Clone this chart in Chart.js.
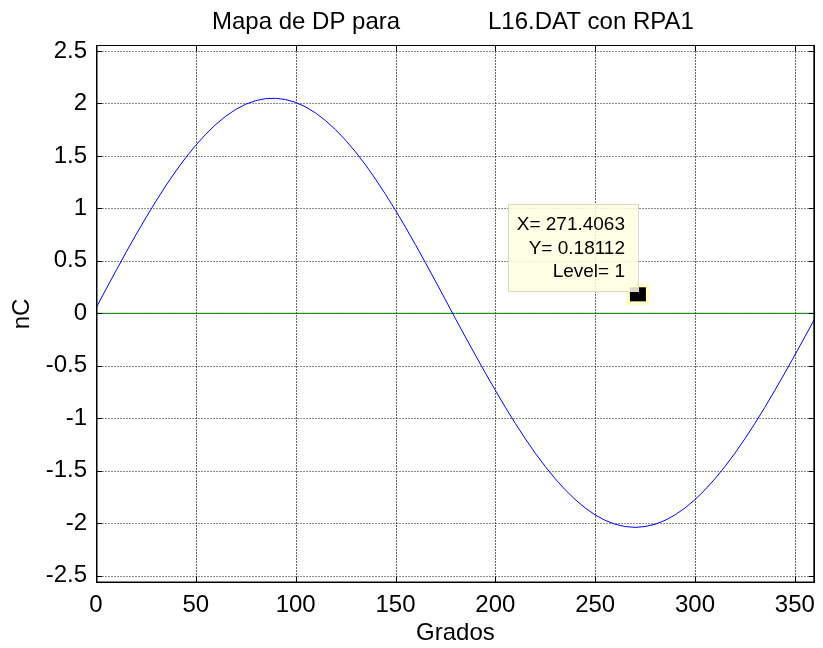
<!DOCTYPE html>
<html>
<head>
<meta charset="utf-8">
<script src="https://cdn.jsdelivr.net/npm/chart.js@4"></script>
<style>
html,body{margin:0;padding:0;background:#fff;}
#wrap{width:823px;height:648px;}
</style>
</head>
<body>
<div id="wrap"><canvas id="c" width="823" height="648"></canvas></div>
<script>
// Data
const grados = [0,5,10,15,20,25,30,35,40,45,50,55,60,65,70,75,80,85,90,95,100,105,110,115,120,125,130,135,140,145,150,155,160,165,170,175,180,185,190,195,200,205,210,215,220,225,230,235,240,245,250,255,260,265,270,275,280,285,290,295,300,305,310,315,320,325,330,335,340,345,350,355,360];
const nC = [0.05,0.229,0.405,0.579,0.748,0.911,1.068,1.217,1.356,1.485,1.602,1.707,1.800,1.879,1.943,1.993,2.027,2.046,2.049,2.037,2.010,1.967,1.909,1.836,1.750,1.650,1.538,1.414,1.279,1.134,0.981,0.821,0.654,0.482,0.307,0.129,-0.050,-0.225,-0.398,-0.568,-0.734,-0.895,-1.049,-1.195,-1.333,-1.460,-1.577,-1.682,-1.775,-1.855,-1.921,-1.973,-2.010,-2.032,-2.040,-2.032,-2.010,-1.973,-1.921,-1.855,-1.775,-1.682,-1.577,-1.460,-1.333,-1.195,-1.049,-0.895,-0.734,-0.568,-0.398,-0.225,-0.050];
const levelX = [0,360];
const levelY = [0,0];
const xTicks = [0,50,100,150,200,250,300,350];
const yTicks = [-2.5,-2,-1.5,-1,-0.5,0,0.5,1,1.5,2,2.5];
const tipX = 271.4063, tipY = 0.18112;
const tipLines = ['X= 271.4063','Y= 0.18112','Level= 1'];
const titleParts = ['Mapa de DP para','L16.DAT con RPA1'];
const xLabel = 'Grados', yLabel = 'nC';

const FONT = '"Liberation Sans", Arial, Helvetica, sans-serif';

const decor = {
  id: 'decor',
  beforeDatasetsDraw(chart) {
    const {ctx, chartArea: a} = chart;
    ctx.save();
    ctx.beginPath(); ctx.rect(a.left, a.top, a.right - a.left, a.bottom - a.top); ctx.clip();
    const xs = chart.scales.x, ys = chart.scales.y;
    // vertical grid
    ctx.strokeStyle = 'rgba(0,0,0,0.6)';
    ctx.lineWidth = 1;
    ctx.setLineDash([2,1]);
    xTicks.forEach(v => {
      const px = Math.round(xs.getPixelForValue(v)) + 0.5;
      ctx.beginPath(); ctx.moveTo(px, a.top); ctx.lineTo(px, a.bottom); ctx.stroke();
    });
    ctx.strokeStyle = 'rgba(0,0,0,0.45)';
    ctx.setLineDash([2,1]);
    yTicks.forEach(v => {
      const py = Math.round(ys.getPixelForValue(v)) + 0.5;
      ctx.beginPath(); ctx.moveTo(a.left, py); ctx.lineTo(a.right, py); ctx.stroke();
    });
    ctx.restore();
  },
  afterDatasetsDraw(chart) {
    const {ctx, chartArea: a} = chart;
    const xs = chart.scales.x, ys = chart.scales.y;
    ctx.save();
    // box
    ctx.strokeStyle = '#000';
    ctx.lineWidth = 1;
    ctx.setLineDash([]);
    ctx.strokeRect(Math.round(a.left) + 0.5, Math.round(a.top) + 0.5, Math.round(a.right - a.left) - 1, Math.round(a.bottom - a.top) - 1);
    ctx.lineWidth = 1.5;
    ctx.beginPath(); ctx.moveTo(a.left + 0.75, a.top); ctx.lineTo(a.left + 0.75, a.bottom); ctx.stroke();
    ctx.beginPath(); ctx.moveTo(a.left, a.bottom - 0.75); ctx.lineTo(a.right, a.bottom - 0.75); ctx.stroke();
    ctx.beginPath(); ctx.moveTo(a.right - 0.75, a.top); ctx.lineTo(a.right - 0.75, a.bottom); ctx.stroke();
    ctx.lineWidth = 1;
    // inward ticks
    const tl = 6;
    xTicks.forEach(v => {
      const px = Math.round(xs.getPixelForValue(v)) + 0.5;
      ctx.beginPath(); ctx.moveTo(px, a.bottom); ctx.lineTo(px, a.bottom - tl); ctx.stroke();
      ctx.beginPath(); ctx.moveTo(px, a.top); ctx.lineTo(px, a.top + tl); ctx.stroke();
    });
    yTicks.forEach(v => {
      const py = Math.round(ys.getPixelForValue(v)) + 0.5;
      ctx.beginPath(); ctx.moveTo(a.left, py); ctx.lineTo(a.left + tl, py); ctx.stroke();
      ctx.beginPath(); ctx.moveTo(a.right, py); ctx.lineTo(a.right - tl, py); ctx.stroke();
    });
    // datatip marker
    const mx = xs.getPixelForValue(tipX), my = ys.getPixelForValue(tipY);
    ctx.fillStyle = '#ffffd0';
    ctx.fillRect(mx - 12, my - 11, 24, 22);
    ctx.fillStyle = '#000';
    ctx.fillRect(mx - 8, my - 7, 16, 14);
    // datatip box
    const bx = 508, by = 204, bw = 130, bh = 87;
    ctx.fillStyle = 'rgba(255,255,225,0.85)';
    ctx.fillRect(bx, by, bw, bh);
    ctx.strokeStyle = '#d8d8c8';
    ctx.strokeRect(bx + 0.5, by + 0.5, bw, bh);
    ctx.fillStyle = '#000';
    ctx.font = '19px ' + FONT;
    ctx.textAlign = 'right';
    ctx.textBaseline = 'middle';
    tipLines.forEach((t, i) => ctx.fillText(t, 625, 225 + i * 23.5));
    // title
    ctx.font = '24px ' + FONT;
    ctx.textAlign = 'left';
    ctx.textBaseline = 'middle';
    ctx.fillText(titleParts[0], 212, 22);
    ctx.fillText(titleParts[1], 488, 22);
    // axis labels
    ctx.textAlign = 'center';
    ctx.fillText(xLabel, (a.left + a.right) / 2, 633);
    ctx.translate(22, (a.top + a.bottom) / 2);
    ctx.rotate(-Math.PI / 2);
    ctx.fillText(yLabel, 0, 0);
    ctx.restore();
  }
};

new Chart(document.getElementById('c'), {
  type: 'line',
  data: {
    datasets: [
      {
        data: grados.map((g, i) => ({x: g, y: nC[i]})),
        borderColor: '#0000ff',
        borderWidth: 1,
        pointRadius: 0,
        tension: 0,
        fill: false
      },
      {
        data: levelX.map((g, i) => ({x: g, y: levelY[i]})),
        borderColor: '#008000',
        borderWidth: 1,
        pointRadius: 0,
        fill: false
      }
    ]
  },
  options: {
    responsive: false,
    animation: false,
    events: [],
    layout: {padding: {left: 0, right: 5, top: 45, bottom: 0}},
    plugins: {legend: {display: false}, tooltip: {enabled: false}, title: {display: false}},
    scales: {
      x: {
        type: 'linear',
        min: 0, max: 360,
        afterBuildTicks: s => { s.ticks = xTicks.map(v => ({value: v})); },
        afterFit: s => { s.height = 65; },
        grid: {display: false, drawTicks: false},
        border: {display: false},
        ticks: {
          color: '#000',
          padding: 8,
          maxRotation: 0,
          autoSkip: false,
          font: {family: FONT, size: 24},
          callback: v => String(v)
        }
      },
      y: {
        type: 'linear',
        min: -2.57, max: 2.557,
        afterBuildTicks: s => { s.ticks = yTicks.map(v => ({value: v})); },
        afterFit: s => { s.width = 96; },
        grid: {display: false, drawTicks: false},
        border: {display: false},
        ticks: {
          color: '#000',
          padding: 9,
          autoSkip: false,
          font: {family: FONT, size: 24},
          callback: v => String(v)
        }
      }
    }
  },
  plugins: [decor]
});
</script>
</body>
</html>
